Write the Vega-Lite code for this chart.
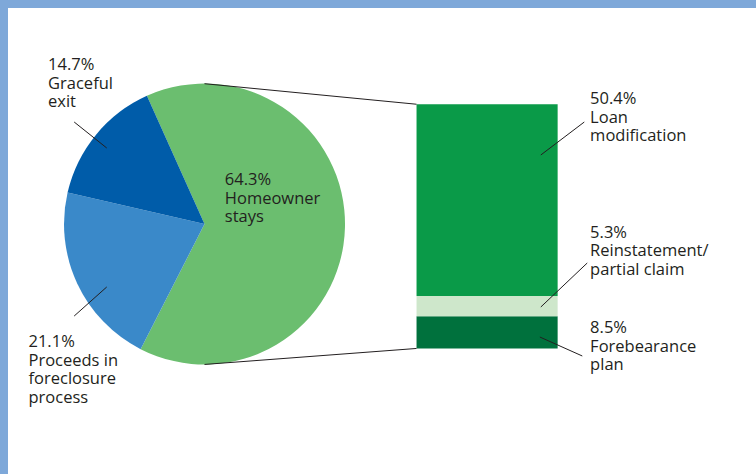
{
  "$schema": "https://vega.github.io/schema/vega-lite/v6.json",
  "autosize": {"type": "none"},
  "width": 748,
  "height": 466,
  "padding": {"left": 8, "top": 8, "right": 0, "bottom": 0},
  "background": "#7EA8D9",
  "config": {
    "view": {"fill": "white", "stroke": null},
    "axis": {"disable": true},
    "text": {"font": "Open Sans", "fontSize": 16.5, "color": "#231F20", "align": "left", "baseline": "alphabetic", "lineHeight": 18.5, "lineBreak": "\n"},
    "rule": {"color": "#231F20", "strokeWidth": 1}
  },
  "layer": [
    {
      "data": {"values": [
        {"category": "Homeowner stays", "pct": 64.3, "rank": 1},
        {"category": "Proceeds in foreclosure process", "pct": 21.1, "rank": 2},
        {"category": "Graceful exit", "pct": 14.7, "rank": 3}
      ]},
      "mark": {"type": "arc", "radius": 140.5},
      "encoding": {
        "x": {"datum": 25.95, "type": "quantitative", "scale": {"domain": [0, 100], "nice": false, "zero": false}, "axis": null},
        "y": {"datum": 32.72, "type": "quantitative", "scale": {"domain": [-33, 89.5], "nice": false, "zero": false}, "axis": null},
        "theta": {"field": "pct", "type": "quantitative", "stack": true, "scale": {"range": [-0.4224, 5.8608]}},
        "order": {"field": "rank", "type": "quantitative"},
        "color": {"field": "category", "type": "nominal", "legend": null,
          "scale": {"domain": ["Homeowner stays", "Proceeds in foreclosure process", "Graceful exit", "Loan modification", "Reinstatement/partial claim", "Forebearance plan"],
                    "range": ["#6BBE6F", "#3A89C9", "#005CA9", "#0A9A48", "#CEE7CB", "#00713D"]}}
      }
    },
    {
      "data": {"values": [
        {"category": "Forebearance plan", "pct": 8.5, "rank": 1},
        {"category": "Reinstatement/partial claim", "pct": 5.3, "rank": 2},
        {"category": "Loan modification", "pct": 50.4, "rank": 3}
      ]},
      "mark": {"type": "bar", "orient": "vertical"},
      "encoding": {
        "x": {"datum": 54.68, "type": "quantitative"},
        "x2": {"datum": 73.8},
        "y": {"field": "pct", "type": "quantitative", "stack": "zero"},
        "order": {"field": "rank", "type": "quantitative"},
        "color": {"field": "category", "type": "nominal", "legend": null}
      }
    },
    {"data": {"values": [{}]}, "mark": "rule", "encoding": {"x": {"datum": 25.95}, "y": {"datum": 69.6}, "x2": {"datum": 54.68}, "y2": {"datum": 64.2}}},
    {"data": {"values": [{}]}, "mark": "rule", "encoding": {"x": {"datum": 25.95}, "y": {"datum": -4.2}, "x2": {"datum": 54.68}, "y2": {"datum": 0}}},
    {"data": {"values": [{}]}, "mark": "rule", "encoding": {"x": {"datum": 8.29}, "y": {"datum": 59.53}, "x2": {"datum": 12.7}, "y2": {"datum": 52.7}}},
    {"data": {"values": [{}]}, "mark": "rule", "encoding": {"x": {"datum": 8.29}, "y": {"datum": 8.53}, "x2": {"datum": 12.7}, "y2": {"datum": 16.16}}},
    {"data": {"values": [{}]}, "mark": "rule", "encoding": {"x": {"datum": 71.52}, "y": {"datum": 50.86}, "x2": {"datum": 77.41}, "y2": {"datum": 59.53}}},
    {"data": {"values": [{}]}, "mark": "rule", "encoding": {"x": {"datum": 71.52}, "y": {"datum": 10.9}, "x2": {"datum": 77.81}, "y2": {"datum": 22.47}}},
    {"data": {"values": [{}]}, "mark": "rule", "encoding": {"x": {"datum": 71.39}, "y": {"datum": 3.01}, "x2": {"datum": 77.14}, "y2": {"datum": -1.98}}},
    {"data": {"values": [{"label": "14.7%\nGraceful\nexit"}]}, "mark": "text", "encoding": {"x": {"datum": 4.75}, "y": {"datum": 73.2}, "text": {"field": "label"}}},
    {"data": {"values": [{"label": "21.1%\nProceeds in\nforeclosure\nprocess"}]}, "mark": "text", "encoding": {"x": {"datum": 2.1}, "y": {"datum": 0.38}, "text": {"field": "label"}}},
    {"data": {"values": [{"label": "64.3%\nHomeowner\nstays"}]}, "mark": "text", "encoding": {"x": {"datum": 28.7}, "y": {"datum": 42.97}, "text": {"field": "label"}}},
    {"data": {"values": [{"label": "50.4%\nLoan\nmodification"}]}, "mark": "text", "encoding": {"x": {"datum": 78.2}, "y": {"datum": 64.26}, "text": {"field": "label"}}},
    {"data": {"values": [{"label": "5.3%\nReinstatement/\npartial claim"}]}, "mark": "text", "encoding": {"x": {"datum": 78.2}, "y": {"datum": 29.04}, "text": {"field": "label"}}},
    {"data": {"values": [{"label": "8.5%\nForebearance\nplan"}]}, "mark": "text", "encoding": {"x": {"datum": 78.2}, "y": {"datum": 4.06}, "text": {"field": "label"}}}
  ]
}
